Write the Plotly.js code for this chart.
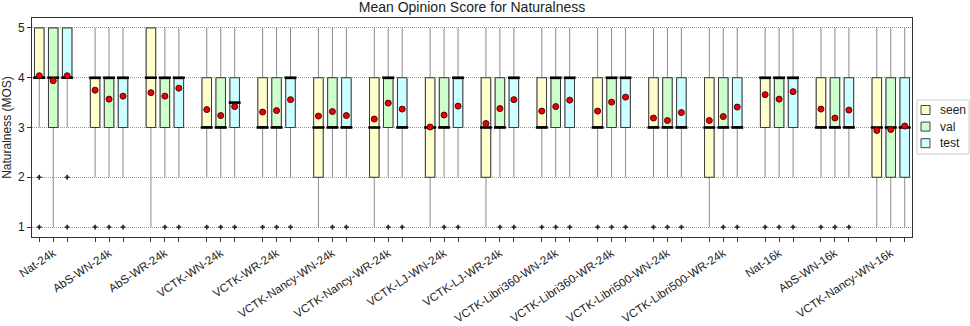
<!DOCTYPE html>
<html>
<head>
<meta charset="utf-8">
<script src="https://cdn.plot.ly/plotly-3.0.1.min.js"></script>
<style>
  html, body { margin: 0; padding: 0; background: #fff; }
  #mos { width: 970px; height: 326px; }
</style>
</head>
<body>
<div id="mos"></div>
<script>
// systems on the x axis
const systems = ['Nat-24k', 'AbS-WN-24k', 'AbS-WR-24k', 'VCTK-WN-24k', 'VCTK-WR-24k',
    'VCTK-Nancy-WN-24k', 'VCTK-Nancy-WR-24k', 'VCTK-LJ-WN-24k', 'VCTK-LJ-WR-24k',
    'VCTK-Libri360-WN-24k', 'VCTK-Libri360-WR-24k', 'VCTK-Libri500-WN-24k',
    'VCTK-Libri500-WR-24k', 'Nat-16k', 'AbS-WN-16k', 'VCTK-Nancy-WN-16k'];

// seen
const seen_q1   = [4, 3, 3, 3, 3, 2, 2, 2, 2, 3, 3, 3, 2, 3, 3, 2];
const seen_med  = [4, 4, 4, 3, 3, 3, 3, 3, 3, 3, 3, 3, 3, 4, 3, 3];
const seen_q3   = [5, 4, 5, 4, 4, 4, 4, 4, 4, 4, 4, 4, 4, 4, 4, 4];
const seen_lo   = [3, 2, 1, 2, 2, 1, 1, 1, 1, 2, 2, 2, 1, 2, 2, 1];
const seen_hi   = [5, 5, 5, 5, 5, 5, 5, 5, 5, 5, 5, 5, 5, 5, 5, 5];
const seen_mean = [4.04, 3.75, 3.70, 3.36, 3.31, 3.23, 3.17, 3.01, 3.08, 3.33, 3.33, 3.19, 3.14, 3.66, 3.37, 2.94];
const seen_out  = [[2, 1], [1], [], [1], [1], [], [], [], [], [1], [1], [1], [], [1], [1], []];

// val
const val_q1   = [3, 3, 3, 3, 3, 3, 3, 3, 3, 3, 3, 3, 3, 3, 3, 2];
const val_med  = [4, 4, 4, 3, 3, 3, 4, 3, 3, 4, 4, 3, 3, 4, 3, 3];
const val_q3   = [5, 4, 4, 4, 4, 4, 4, 4, 4, 4, 4, 4, 4, 4, 4, 4];
const val_lo   = [1, 2, 2, 2, 2, 2, 2, 2, 2, 2, 2, 2, 2, 2, 2, 1];
const val_hi   = [5, 5, 5, 5, 5, 5, 5, 5, 5, 5, 5, 5, 5, 5, 5, 5];
const val_mean = [3.94, 3.57, 3.63, 3.24, 3.34, 3.32, 3.49, 3.25, 3.38, 3.42, 3.51, 3.14, 3.22, 3.57, 3.19, 2.96];
const val_out  = [[], [1], [1], [1], [1], [1], [1], [1], [1], [1], [1], [1], [1], [1], [1], []];

// test
const test_q1   = [4, 3, 3, 3, 3, 3, 3, 3, 3, 3, 3, 3, 3, 3, 3, 2];
const test_med  = [4, 4, 4, 3.5, 4, 3, 3, 4, 4, 4, 4, 3, 3, 4, 3, 3];
const test_q3   = [5, 4, 4, 4, 4, 4, 4, 4, 4, 4, 4, 4, 4, 4, 4, 4];
const test_lo   = [3, 2, 2, 2, 2, 2, 2, 2, 2, 2, 2, 2, 2, 2, 2, 1];
const test_hi   = [5, 5, 5, 5, 5, 5, 5, 5, 5, 5, 5, 5, 5, 5, 5, 5];
const test_mean = [4.04, 3.63, 3.79, 3.42, 3.56, 3.24, 3.37, 3.43, 3.56, 3.55, 3.61, 3.30, 3.41, 3.72, 3.35, 3.03];
const test_out  = [[2, 1], [1], [1], [1], [1], [1], [1], [1], [1], [1], [1], [1], [1], [1], [1], []];

const sets = [
    { name: 'seen', off: -0.25, fill: '#ffffcc', q1: seen_q1, med: seen_med, q3: seen_q3, lo: seen_lo, hi: seen_hi, mean: seen_mean, out: seen_out },
    { name: 'val',  off: 0,     fill: '#ccffcc', q1: val_q1,  med: val_med,  q3: val_q3,  lo: val_lo,  hi: val_hi,  mean: val_mean,  out: val_out },
    { name: 'test', off: 0.25,  fill: '#ccffff', q1: test_q1, med: test_med, q3: test_q3, lo: test_lo, hi: test_hi, mean: test_mean, out: test_out },
];

const W = 970, H = 326;
const M = { l: 32, r: 58, t: 18, b: 89 };
const BOXW = 0.17;
const whiskers = [], boxes = [], extras = [];

sets.forEach(s => {
    const xs = systems.map((_, i) => i + s.off);
    // grey whiskers underneath
    whiskers.push({
        type: 'box', x: xs, q1: s.q1, median: s.med, q3: s.q3,
        lowerfence: s.lo, upperfence: s.hi,
        width: BOXW, whiskerwidth: 0, fillcolor: s.fill,
        line: { color: '#8a8a8a', width: 1 },
        showlegend: false, hoverinfo: 'skip', name: s.name,
    });
    // dark box on top
    boxes.push({
        type: 'box', x: xs, q1: s.q1, median: s.med, q3: s.q3,
        lowerfence: s.q1, upperfence: s.q3,
        width: BOXW, whiskerwidth: 0, fillcolor: s.fill,
        line: { color: '#3a3a3a', width: 1 },
        showlegend: false, name: s.name,
    });
    // median bars
    extras.push({
        type: 'scatter', mode: 'markers', x: xs, y: s.med, showlegend: false, hoverinfo: 'skip',
        marker: { symbol: 'line-ew', size: 8.5, line: { color: '#000', width: 2.6 } },
    });
    // outliers
    const ox = [], oy = [];
    s.out.forEach((vals, i) => vals.forEach(v => { ox.push(i + s.off); oy.push(v); }));
    extras.push({
        type: 'scatter', mode: 'markers', x: ox, y: oy, showlegend: false, hoverinfo: 'skip',
        marker: { symbol: 'cross', size: 4, color: '#222' },
    });
    // means
    extras.push({
        type: 'scatter', mode: 'markers', x: xs, y: s.mean, showlegend: false,
        marker: { symbol: 'circle', size: 6, color: '#e8000b', line: { color: '#5a0000', width: 1 } },
    });
});

// ticks under every box, label under the middle one
const tickvals = [], ticktext = [];
systems.forEach((name, i) => {
    sets.forEach(s => {
        tickvals.push(i + s.off);
        ticktext.push(s.off === 0 ? name : '');
    });
});

// legend drawn by hand (pixel positions -> paper coords)
const px = x => (x - M.l) / (W - M.l - M.r);
const py = y => (H - M.b - y) / (H - M.t - M.b);
const shapes = [{
    type: 'rect', xref: 'paper', yref: 'paper',
    x0: px(917), x1: px(969), y0: py(154), y1: py(100),
    line: { color: '#cccccc', width: 1 }, fillcolor: '#fff',
}];
const annotations = [];
sets.forEach((s, k) => {
    const cy = 110 + k * 16.6;
    shapes.push({
        type: 'rect', xref: 'paper', yref: 'paper',
        x0: px(921), x1: px(930), y0: py(cy + 4.5), y1: py(cy - 4.5),
        line: { color: '#444', width: 1 }, fillcolor: s.fill,
    });
    annotations.push({
        xref: 'paper', yref: 'paper', x: px(938), y: py(cy),
        xanchor: 'left', yanchor: 'middle', showarrow: false,
        text: s.name, font: { size: 12, color: '#222' },
    });
});

const layout = {
    width: W,
    height: H,
    margin: { l: M.l, r: M.r, t: M.t, b: M.b, autoexpand: false },
    font: { family: 'Liberation Sans, Arial, sans-serif', size: 12, color: '#222' },
    title: {
        text: 'Mean Opinion Score for Naturalness',
        font: { size: 14, color: '#222' },
        x: 0.5, xref: 'paper', y: 0.978, yref: 'container', yanchor: 'middle',
    },
    boxmode: 'overlay',
    showlegend: false,
    xaxis: {
        range: [-0.38, 15.38],
        tickmode: 'array', tickvals: tickvals, ticktext: ticktext,
        tickangle: -34, tickfont: { size: 11.6 },
        ticks: 'outside', ticklen: 4, tickcolor: '#333',
        showgrid: false, zeroline: false,
        showline: true, mirror: true, linecolor: '#333', linewidth: 1,
    },
    yaxis: {
        title: { text: 'Naturalness (MOS)', font: { size: 12 }, standoff: 6 },
        range: [0.8, 5.2],
        tickvals: [1, 2, 3, 4, 5],
        ticks: 'outside', ticklen: 4, tickcolor: '#333',
        showgrid: true, gridcolor: '#999999', griddash: '1px,1px', gridwidth: 1,
        zeroline: false,
        showline: true, mirror: true, linecolor: '#333', linewidth: 1,
    },
    shapes: shapes,
    annotations: annotations,
    plot_bgcolor: '#fff',
    paper_bgcolor: '#fff',
};

Plotly.newPlot('mos', [...whiskers, ...boxes, ...extras], layout, { displayModeBar: false, staticPlot: true });
</script>
</body>
</html>
